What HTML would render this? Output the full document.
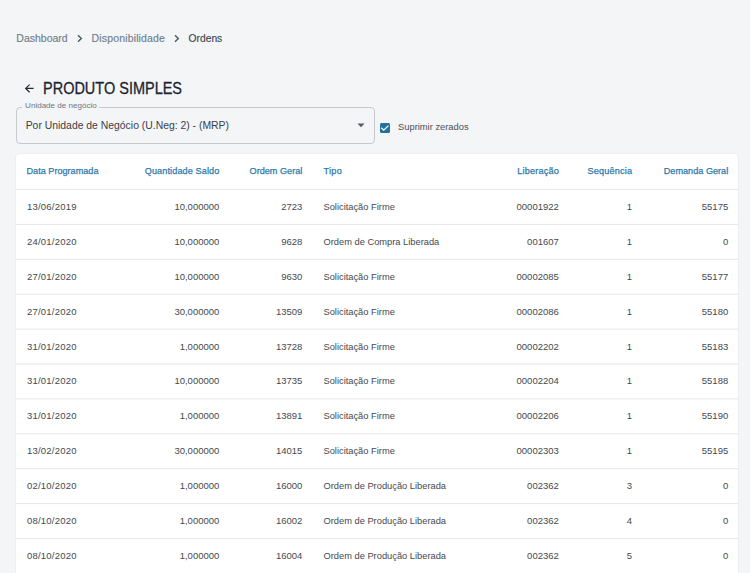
<!DOCTYPE html>
<html><head><meta charset="utf-8">
<style>
*{box-sizing:border-box;margin:0;padding:0}
html,body{width:750px;height:573px;overflow:hidden;background:#f4f5f7;font-family:"Liberation Sans",sans-serif}
.abs{position:absolute;white-space:nowrap}
.bc{font-size:10.5px;line-height:12px;color:#6f7e8c;-webkit-text-stroke:0.15px #6f7e8c}
.bc.cur{color:#3d4550;-webkit-text-stroke:0.15px #3d4550}
.title{position:absolute;left:43px;top:79px;font-size:16.3px;line-height:18px;color:#1e2530;transform-origin:0 0;transform:scaleX(0.89);white-space:nowrap;-webkit-text-stroke:0.3px #1e2530}
.sel{position:absolute;left:16px;top:107px;width:359px;height:37px;border:1px solid #c6cacf;border-radius:4px}
.legend{position:absolute;left:22.3px;top:101.2px;padding:0 2.8px;background:#f4f5f7;font-size:8.05px;line-height:10px;color:#6f7780;white-space:nowrap}
.seltext{position:absolute;left:25.7px;top:119.8px;font-size:10.4px;line-height:12px;color:#3a4048;white-space:nowrap}
.cb{position:absolute;left:380px;top:122.7px;width:10px;height:10px;background:#23729e;border-radius:1.5px}
.cbl{position:absolute;left:398px;top:121px;font-size:9.35px;line-height:12px;color:#4a5058;white-space:nowrap}
.card{position:absolute;left:16px;top:154px;width:722px;height:440px;background:#fff;border-radius:4px;box-shadow:0 0 0 1px #eceef1,0 1px 2px rgba(0,0,0,.04)}
.row{position:absolute;left:16px;width:722px;height:34px}
.c{position:absolute;top:0;line-height:34px;font-size:9.5px;color:#44494f;white-space:nowrap}
.h .c{font-size:9.15px;font-weight:400;color:#2e7aab;line-height:35px;-webkit-text-stroke:0.25px #2e7aab}
.l1{left:11px;letter-spacing:0.22px}
.r2{right:518.7px}
.r3{right:435.7px}
.l4{left:307.5px;font-size:9.3px}
.r5{right:179.2px}
.r6{right:106px}
.r7{right:9.8px}
</style></head><body>
<div class="abs bc" style="left:16.3px;top:32px">Dashboard</div>
<svg style="position:absolute;left:76px;top:34px" width="8" height="9" viewBox="0 0 8 9"><path d="M2 1.2 L5.3 4.5 L2 7.8" fill="none" stroke="#4d5f6c" stroke-width="1.5"/></svg>
<div class="abs bc" style="left:91.5px;top:32px;letter-spacing:0.16px">Disponibilidade</div>
<svg style="position:absolute;left:173px;top:34px" width="8" height="9" viewBox="0 0 8 9"><path d="M2 1.2 L5.3 4.5 L2 7.8" fill="none" stroke="#4d5f6c" stroke-width="1.5"/></svg>
<div class="abs bc cur" style="left:188.6px;top:32.5px;font-size:10.25px">Ordens</div>
<svg style="position:absolute;left:24px;top:83px" width="11" height="11" viewBox="0 0 11 11"><path d="M9.6 5.4 H2 M5.6 1.6 L1.7 5.4 L5.6 9.3" fill="none" stroke="#262b33" stroke-width="1.25"/></svg>
<div class="title">PRODUTO SIMPLES</div>
<div class="sel"></div>
<div class="legend">Unidade de negócio</div>
<div class="seltext">Por Unidade de Negócio (U.Neg: 2) - (MRP)</div>
<svg style="position:absolute;left:356.6px;top:123.4px" width="8" height="5" viewBox="0 0 8 5"><path d="M0.5 0.5 L7.5 0.5 L4 4.2Z" fill="#555c63"/></svg>
<div class="cb"><svg width="10" height="10" viewBox="0 0 10 10" style="position:absolute;left:0;top:0"><path d="M1.3 4.8 L3.7 7.1 L8.5 2.6" fill="none" stroke="#fff" stroke-width="1.2"/></svg></div>
<div class="cbl">Suprimir zerados</div>
<div class="card"></div>
<svg style="position:absolute;left:16px;top:150px" width="722" height="423" viewBox="0 0 722 423"><rect x="0" y="39.00" width="722" height="1" fill="#e5e6e8"/><rect x="0" y="73.90" width="722" height="1" fill="#e5e6e8"/><rect x="0" y="108.80" width="722" height="1" fill="#e5e6e8"/><rect x="0" y="143.70" width="722" height="1" fill="#e5e6e8"/><rect x="0" y="178.60" width="722" height="1" fill="#e5e6e8"/><rect x="0" y="213.50" width="722" height="1" fill="#e5e6e8"/><rect x="0" y="248.40" width="722" height="1" fill="#e5e6e8"/><rect x="0" y="283.30" width="722" height="1" fill="#e5e6e8"/><rect x="0" y="318.20" width="722" height="1" fill="#e5e6e8"/><rect x="0" y="353.10" width="722" height="1" fill="#e5e6e8"/><rect x="0" y="388.00" width="722" height="1" fill="#e5e6e8"/></svg>
<div class="row h" style="top:154px;height:35px"><div class="c l1" style="letter-spacing:0;left:10.5px">Data Programada</div><div class="c r2" style="letter-spacing:0.1px;margin-right:-0.1px">Quantidade Saldo</div><div class="c r3">Ordem Geral</div><div class="c l4" style="font-size:9.15px;letter-spacing:0.3px">Tipo</div><div class="c r5" style="letter-spacing:0.18px;margin-right:-0.18px">Liberação</div><div class="c r6" style="letter-spacing:0.17px;margin-right:-0.17px">Sequência</div><div class="c r7">Demanda Geral</div></div>
<div class="row" style="top:189.90px"><div class="c l1">13/06/2019</div><div class="c r2">10,000000</div><div class="c r3">2723</div><div class="c l4">Solicitação Firme</div><div class="c r5">00001922</div><div class="c r6">1</div><div class="c r7">55175</div></div>
<div class="row" style="top:224.80px"><div class="c l1">24/01/2020</div><div class="c r2">10,000000</div><div class="c r3">9628</div><div class="c l4">Ordem de Compra Liberada</div><div class="c r5">001607</div><div class="c r6">1</div><div class="c r7">0</div></div>
<div class="row" style="top:259.70px"><div class="c l1">27/01/2020</div><div class="c r2">10,000000</div><div class="c r3">9630</div><div class="c l4">Solicitação Firme</div><div class="c r5">00002085</div><div class="c r6">1</div><div class="c r7">55177</div></div>
<div class="row" style="top:294.60px"><div class="c l1">27/01/2020</div><div class="c r2">30,000000</div><div class="c r3">13509</div><div class="c l4">Solicitação Firme</div><div class="c r5">00002086</div><div class="c r6">1</div><div class="c r7">55180</div></div>
<div class="row" style="top:329.50px"><div class="c l1">31/01/2020</div><div class="c r2">1,000000</div><div class="c r3">13728</div><div class="c l4">Solicitação Firme</div><div class="c r5">00002202</div><div class="c r6">1</div><div class="c r7">55183</div></div>
<div class="row" style="top:364.40px"><div class="c l1">31/01/2020</div><div class="c r2">10,000000</div><div class="c r3">13735</div><div class="c l4">Solicitação Firme</div><div class="c r5">00002204</div><div class="c r6">1</div><div class="c r7">55188</div></div>
<div class="row" style="top:399.30px"><div class="c l1">31/01/2020</div><div class="c r2">1,000000</div><div class="c r3">13891</div><div class="c l4">Solicitação Firme</div><div class="c r5">00002206</div><div class="c r6">1</div><div class="c r7">55190</div></div>
<div class="row" style="top:434.20px"><div class="c l1">13/02/2020</div><div class="c r2">30,000000</div><div class="c r3">14015</div><div class="c l4">Solicitação Firme</div><div class="c r5">00002303</div><div class="c r6">1</div><div class="c r7">55195</div></div>
<div class="row" style="top:469.10px"><div class="c l1">02/10/2020</div><div class="c r2">1,000000</div><div class="c r3">16000</div><div class="c l4">Ordem de Produção Liberada</div><div class="c r5">002362</div><div class="c r6">3</div><div class="c r7">0</div></div>
<div class="row" style="top:504.00px"><div class="c l1">08/10/2020</div><div class="c r2">1,000000</div><div class="c r3">16002</div><div class="c l4">Ordem de Produção Liberada</div><div class="c r5">002362</div><div class="c r6">4</div><div class="c r7">0</div></div>
<div class="row" style="top:538.90px"><div class="c l1">08/10/2020</div><div class="c r2">1,000000</div><div class="c r3">16004</div><div class="c l4">Ordem de Produção Liberada</div><div class="c r5">002362</div><div class="c r6">5</div><div class="c r7">0</div></div>
</body></html>
